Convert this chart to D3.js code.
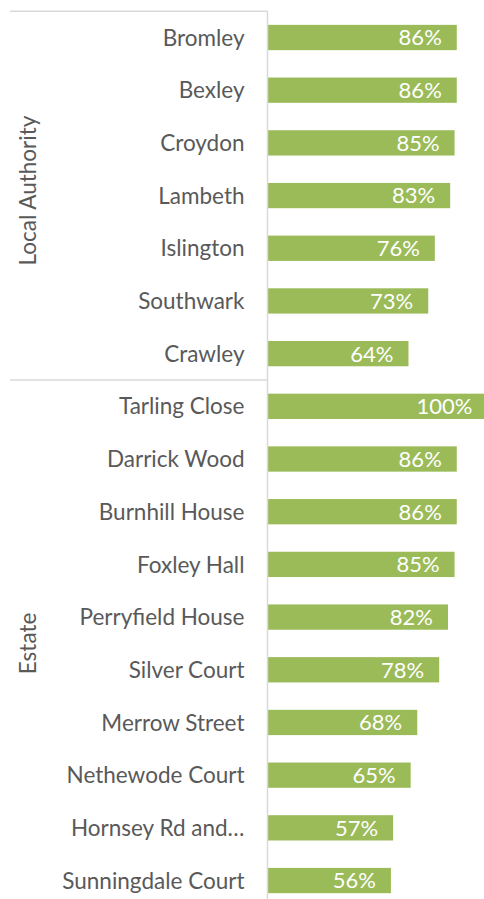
<!DOCTYPE html>
<html>
<head>
<meta charset="utf-8">
<script src="https://cdn.jsdelivr.net/npm/d3@7"></script>
<style>
  html, body { margin: 0; padding: 0; background: #fff; }
  svg { display: block; }
  text { font-family: "Lato", "Open Sans", sans-serif; }
</style>
</head>
<body>
<svg id="chart" width="484" height="899"></svg>
<script>
const categories = ["Bromley", "Bexley", "Croydon", "Lambeth", "Islington", "Southwark", "Crawley",
  "Tarling Close", "Darrick Wood", "Burnhill House", "Foxley Hall", "Perryfield House", "Silver Court",
  "Merrow Street", "Nethewode Court", "Hornsey Rd and…", "Sunningdale Court"];
const values = [86, 86, 85, 83, 76, 73, 64, 100, 86, 86, 85, 82, 78, 68, 65, 57, 56];
const groupNames = ["Local Authority", "Estate"];
const groupSizes = [7, 10];

const svg = d3.select("#chart");
const plotLeft = 268, plotTop = 11.15, band = 52.69;
const plotBottom = plotTop + band * categories.length;

const x = d3.scaleLinear().domain([0, 100]).range([plotLeft, plotLeft + 219.5]);
const y = d3.scaleBand().domain(categories).range([plotTop, plotBottom]).paddingInner(0.52).paddingOuter(0.26);

const green = "#9BBB59", grey = "#595959", lineCol = "#D9D9D9";
const catSize = 22.5, valSize = 22, grpSize = 22.5;

// bars
svg.append("g").selectAll("rect").data(categories).join("rect")
  .attr("x", x(0))
  .attr("y", d => y(d))
  .attr("width", (d, i) => x(values[i]) - x(0))
  .attr("height", y.bandwidth())
  .attr("fill", green);

// value labels
svg.append("g").selectAll("text").data(categories).join("text")
  .attr("x", (d, i) => x(values[i]) - 15)
  .attr("y", d => y(d) + y.bandwidth() / 2)
  .attr("dy", "0.36em")
  .attr("text-anchor", "end")
  .attr("fill", "#fff")
  .attr("font-size", valSize)
  .text((d, i) => values[i] + "%");

// category axis
const yAxis = d3.axisLeft(y).tickSize(0).tickPadding(23);
const gAxis = svg.append("g").attr("transform", `translate(${plotLeft - 0.5},0)`).call(yAxis);
gAxis.select(".domain").remove();
gAxis.selectAll("text").attr("fill", grey).attr("font-size", catSize).attr("font-family", "Lato").attr("dy", "0.36em");

// axis line & group separators
svg.append("line").attr("x1", plotLeft - 0.5).attr("x2", plotLeft - 0.5)
  .attr("y1", plotTop).attr("y2", plotBottom).attr("stroke", lineCol).attr("stroke-width", 1.5);
let cum = 0;
const bounds = [0];
groupSizes.forEach(s => { cum += s; bounds.push(cum); });
bounds.slice(0, -1).forEach(b => {
  const yy = b === 0 ? plotTop : y(categories[b]) - y.step() * y.paddingInner() / 2;
  svg.append("line").attr("x1", 10).attr("x2", plotLeft - 0.5)
    .attr("y1", yy).attr("y2", yy).attr("stroke", lineCol).attr("stroke-width", 1.5);
});

// group labels
groupNames.forEach((g, i) => {
  const y0 = plotTop + bounds[i] * band, y1 = plotTop + bounds[i + 1] * band;
  const cy = (y0 + y1) / 2 - (i === 0 ? 5 : 0);
  svg.append("text")
    .attr("transform", `translate(28,${cy}) rotate(-90)`)
    .attr("text-anchor", "middle")
    .attr("dy", "0.36em")
    .attr("fill", grey)
    .attr("font-size", grpSize)
    .text(g);
});
</script>
</body>
</html>
